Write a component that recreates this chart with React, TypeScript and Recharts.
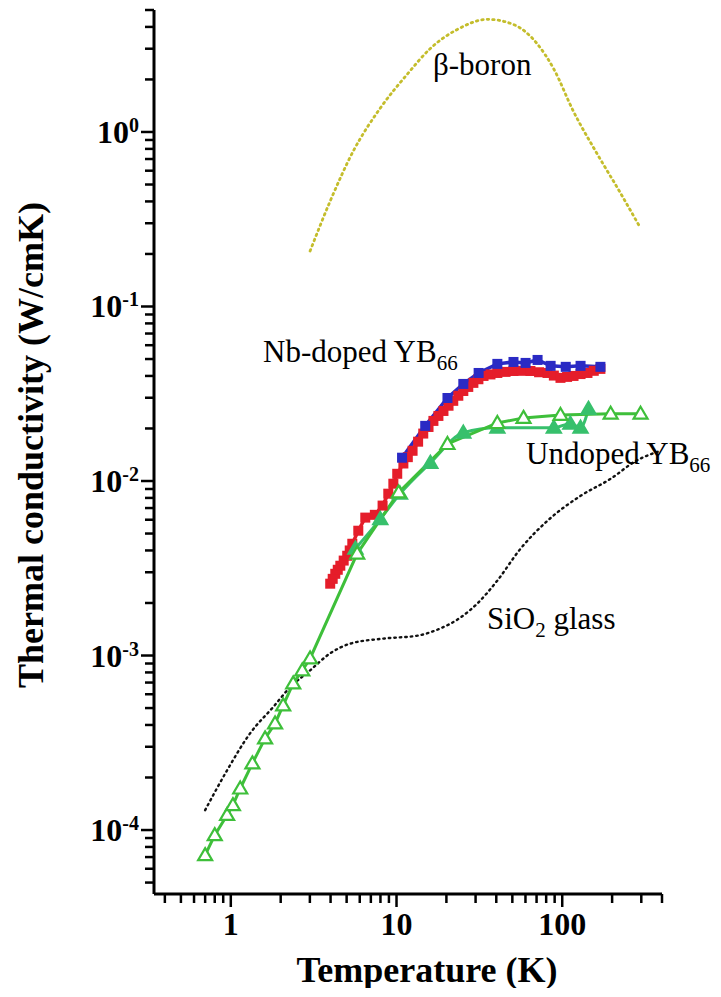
import { LineChart, Line, XAxis, YAxis } from 'recharts'

// temperature (K) and thermal conductivity (W/cmK)
const betaT = [3.01, 3.98, 5.48, 7.98, 11.6, 16.0, 23.3, 35.4, 50.8, 71.0, 88.6, 117, 163, 216, 297]
const betaK = [0.208, 0.402, 0.776, 1.37, 2.14, 3.01, 3.87, 4.42, 4.13, 3.18, 2.31, 1.31, 0.745, 0.476, 0.281]

const sio2T = [0.7, 0.95, 1.31, 1.8, 2.28, 3.01, 3.98, 5.26, 8.32, 13.4, 18.4, 24.3, 30.8, 40.6, 56.0, 81.5, 129, 196, 277, 393]
const sio2K = [1.3e-4, 2.2e-4, 3.59e-4, 5.06e-4, 6.58e-4, 8.22e-4, 1.03e-3, 1.17e-3, 1.25e-3, 1.3e-3, 1.43e-3, 1.65e-3, 1.99e-3, 2.69e-3, 4.09e-3, 5.92e-3, 8.22e-3, 1.03e-2, 1.3e-2, 1.49e-2]

const nbRedT = [3.98, 4.12, 4.27, 4.42, 4.58, 4.8, 5.04, 5.22, 5.41, 5.88, 6.48, 7.4, 8.24, 8.92, 9.57, 10.1, 11.0, 11.7, 12.5, 13.5, 14.5, 15.6, 16.7, 17.9, 19.2, 20.6, 22.0, 23.6, 25.3, 27.1, 29.1, 31.2, 33.5, 36.9, 40.6, 45.5, 50.8, 57.0, 64.3, 72.5, 81.5, 89.0, 97.6, 107, 117, 129, 142, 155, 170]
const nbRedK = [2.58e-3, 2.75e-3, 2.94e-3, 3.1e-3, 3.27e-3, 3.5e-3, 3.73e-3, 4.0e-3, 4.37e-3, 5.19e-3, 6.17e-3, 6.4e-3, 7.23e-3, 8.46e-3, 9.65e-3, 1.1e-2, 1.26e-2, 1.37e-2, 1.49e-2, 1.68e-2, 1.87e-2, 2.04e-2, 2.21e-2, 2.36e-2, 2.52e-2, 2.7e-2, 2.88e-2, 3.08e-2, 3.28e-2, 3.46e-2, 3.65e-2, 3.83e-2, 4.0e-2, 4.08e-2, 4.16e-2, 4.22e-2, 4.27e-2, 4.28e-2, 4.27e-2, 4.2e-2, 4.16e-2, 4.02e-2, 3.9e-2, 3.95e-2, 4.0e-2, 4.1e-2, 4.16e-2, 4.28e-2, 4.39e-2]

const nbBlueT = [10.8, 14.9, 20.3, 25.3, 31.3, 40.6, 50.8, 60.1, 71.0, 85.1, 105, 129, 170]
const nbBlueK = [1.36e-2, 2.07e-2, 2.99e-2, 3.6e-2, 4.16e-2, 4.69e-2, 4.81e-2, 4.75e-2, 4.94e-2, 4.57e-2, 4.51e-2, 4.57e-2, 4.51e-2]

const undopedOpenT = [0.7, 0.8, 0.95, 1.03, 1.14, 1.35, 1.61, 1.85, 2.07, 2.38, 2.7, 3.01, 5.79, 10.3, 20.3, 40.6, 58.4, 97.6, 196, 297]
const undopedOpenK = [7.18e-5, 9.35e-5, 1.22e-4, 1.39e-4, 1.73e-4, 2.41e-4, 3.35e-4, 4.08e-4, 5.18e-4, 6.92e-4, 8.21e-4, 9.62e-4, 3.84e-3, 8.6e-3, 1.63e-2, 2.15e-2, 2.3e-2, 2.39e-2, 2.43e-2, 2.43e-2]

const undopedFilledT = [5.65, 7.98, 10.5, 16.0, 25.3, 40.6, 89.0, 112, 129, 144]
const undopedFilledK = [4.1e-3, 6.05e-3, 8.45e-3, 1.27e-2, 1.89e-2, 2.02e-2, 2.02e-2, 2.13e-2, 2.02e-2, 2.59e-2]

const xTicks = [0.4, 0.5, 0.6, 0.7, 0.8, 0.9, 1, 2, 3, 4, 5, 6, 7, 8, 9, 10, 20, 30, 40, 50, 60, 70, 80, 90, 100, 200, 300, 400]
const xMajor = [1, 10, 100]
const xMajorLabels = ['1', '10', '100']

const yTicks = [
  5e-5, 6e-5, 7e-5, 8e-5, 9e-5, 1e-4, 2e-4, 3e-4, 4e-4, 5e-4, 6e-4, 7e-4, 8e-4, 9e-4,
  1e-3, 2e-3, 3e-3, 4e-3, 5e-3, 6e-3, 7e-3, 8e-3, 9e-3, 1e-2, 2e-2, 3e-2, 4e-2, 5e-2,
  6e-2, 7e-2, 8e-2, 9e-2, 1e-1, 0.2, 0.3, 0.4, 0.5, 0.6, 0.7, 0.8, 0.9, 1, 2, 3, 4, 5,
]
const yMajor = [1e-4, 1e-3, 1e-2, 1e-1, 1]
const yMajorExp = ['-4', '-3', '-2', '-1', '0']

const toRows = (t: number[], k: number[]) => t.map((v, i) => ({ t: v, k: k[i] }))

const SERIF = '"Liberation Serif", "Times New Roman", serif'

const majorIndex = (list: number[], v: number) =>
  list.findIndex((m) => Math.abs(Math.log10(m) - Math.log10(v)) < 1e-6)

const XTick = (props: any) => {
  const { x, y, payload } = props
  const idx = majorIndex(xMajor, payload.value)
  return (
    <g>
      <line x1={x} x2={x} y1={y} y2={y + (idx >= 0 ? 13 : 9)} stroke="#000" strokeWidth={2.5} />
      {idx >= 0 && (
        <text x={x} y={y + 41} textAnchor="middle" fontFamily={SERIF} fontWeight="bold" fontSize={32} fill="#000">
          {xMajorLabels[idx]}
        </text>
      )}
    </g>
  )
}

const YTick = (props: any) => {
  const { x, y, payload } = props
  const idx = majorIndex(yMajor, payload.value)
  return (
    <g>
      <line x1={x - (idx >= 0 ? 13 : 9)} x2={x} y1={y} y2={y} stroke="#000" strokeWidth={2.5} />
      {idx >= 0 && (
        <text x={x - 15} y={y + 11} textAnchor="end" fontFamily={SERIF} fontWeight="bold" fontSize={32} fill="#000">
          10
          <tspan fontSize={20} dy={-11}>
            {yMajorExp[idx]}
          </tspan>
        </text>
      )}
    </g>
  )
}

const square = (color: string) => (p: any) => (
  <rect key={p.index} x={p.cx - 5} y={p.cy - 5} width={10} height={10} fill={color} />
)

const triangle = (color: string, filled: boolean) => (p: any) => (
  <path
    key={p.index}
    d={`M${p.cx},${p.cy - 7} L${p.cx + 7},${p.cy + 5} L${p.cx - 7},${p.cy + 5} Z`}
    fill={filled ? color : '#fff'}
    stroke={color}
    strokeWidth={2.2}
  />
)

const annot = { fontFamily: SERIF, fontSize: 31, fill: '#000' }

export default function App() {
  return (
    <div style={{ position: 'relative', width: 700, height: 980 }}>
      <LineChart width={700} height={980} margin={{ top: 2, right: 46, left: 0, bottom: 14 }}>
        <XAxis
          type="number"
          dataKey="t"
          scale="log"
          domain={[0.344, 400]}
          allowDataOverflow
          ticks={xTicks}
          interval={0}
          tickSize={0}
          tickMargin={0}
          height={80}
          axisLine={{ stroke: '#000', strokeWidth: 3 }}
          tickLine={false}
          tick={<XTick />}
        />
        <YAxis
          type="number"
          dataKey="k"
          scale="log"
          domain={[4.3e-5, 5]}
          allowDataOverflow
          ticks={yTicks}
          interval={0}
          tickSize={0}
          tickMargin={0}
          width={146}
          axisLine={{ stroke: '#000', strokeWidth: 3 }}
          tickLine={false}
          tick={<YTick />}
        />
        <Line
          data={toRows(sio2T, sio2K)}
          dataKey="k"
          type="monotone"
          stroke="#111"
          strokeWidth={2.4}
          strokeDasharray="1.5 4"
          strokeLinecap="round"
          dot={false}
          isAnimationActive={false}
        />
        <Line
          data={toRows(betaT, betaK)}
          dataKey="k"
          type="monotone"
          stroke="#c4bd2c"
          strokeWidth={2.8}
          strokeDasharray="1.5 4"
          strokeLinecap="round"
          dot={false}
          isAnimationActive={false}
        />
        <Line
          data={toRows(nbRedT, nbRedK)}
          dataKey="k"
          type="linear"
          stroke="#e51d2a"
          strokeWidth={3.5}
          dot={square('#e51d2a')}
          isAnimationActive={false}
        />
        <Line
          data={toRows(nbBlueT, nbBlueK)}
          dataKey="k"
          type="linear"
          stroke="#2a2ac4"
          strokeWidth={3.5}
          dot={square('#2a2ac4')}
          isAnimationActive={false}
        />
        <Line
          data={toRows(undopedFilledT, undopedFilledK)}
          dataKey="k"
          type="monotone"
          stroke="#37c06c"
          strokeWidth={3}
          dot={triangle('#37c06c', true)}
          isAnimationActive={false}
        />
        <Line
          data={toRows(undopedOpenT, undopedOpenK)}
          dataKey="k"
          type="linear"
          stroke="#3ebf3a"
          strokeWidth={3}
          dot={triangle('#3ebf3a', false)}
          isAnimationActive={false}
        />
      </LineChart>
      <svg width={713} height={988} style={{ position: 'absolute', left: 0, top: 0, pointerEvents: 'none' }}>
        <text
          x={35}
          y={437}
          transform="rotate(-90 35 437)"
          textAnchor="middle"
          fontFamily={SERIF}
          fontWeight="bold"
          fontSize={36}
          fill="#000"
        >
          Thermal conductivity (W/cmK)
        </text>
        <text x={419} y={974} textAnchor="middle" fontFamily={SERIF} fontWeight="bold" fontSize={36} fill="#000">
          Temperature (K)
        </text>
        <text x={425} y={67} {...annot}>
          β-boron
        </text>
        <text x={255} y={354} {...annot}>
          Nb-doped YB
          <tspan fontSize={21} dy={8}>
            66
          </tspan>
        </text>
        <text x={518} y={456} {...annot}>
          Undoped YB
          <tspan fontSize={21} dy={8}>
            66
          </tspan>
        </text>
        <text x={479} y={621} {...annot}>
          SiO
          <tspan fontSize={21} dy={8}>
            2
          </tspan>
          <tspan dy={-8}> glass</tspan>
        </text>
      </svg>
    </div>
  )
}
